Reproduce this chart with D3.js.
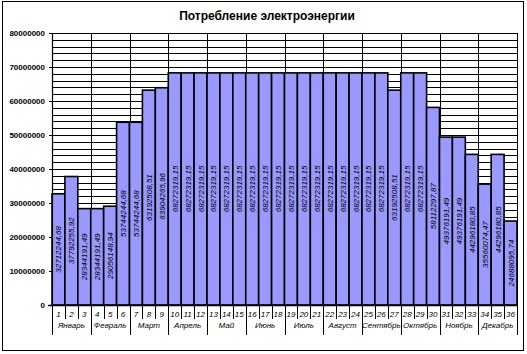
<!DOCTYPE html>
<html>
<head>
<meta charset="utf-8">
<script src="https://cdn.jsdelivr.net/npm/d3@7"></script>
<style>
  body { margin: 0; background: #fff; }
  text { font-family: "Liberation Sans", Arial, sans-serif; fill: #000; }
</style>
</head>
<body>
<div id="chart"></div>
<script>
// bar numbers 1..36 and the month each group of three belongs to
const barNums = ["1","2","3","4","5","6","7","8","9","10","11","12","13","14","15","16","17","18",
                 "19","20","21","22","23","24","25","26","27","28","29","30","31","32","33","34","35","36"];
const months = ["Январь","Февраль","Март","Апрель","Май","Июнь","Июль","Август","Сентябрь","Октябрь","Ноябрь","Декабрь"];
const values = [32712244.68, 37792255.92, 28344191.49, 28344191.49, 29056148.94, 53744244.68,
                53744244.68, 63192508.51, 63904265.96, 68272319.15, 68272319.15, 68272319.15,
                68272319.15, 68272319.15, 68272319.15, 68272319.15, 68272319.15, 68272319.15,
                68272319.15, 68272319.15, 68272319.15, 68272319.15, 68272319.15, 68272319.15,
                68272319.15, 68272319.15, 63192508.51, 68272319.15, 68272319.15, 58112297.87,
                49376191.49, 49376191.49, 44296180.85, 35560074.47, 44296180.85, 24688095.74];
const yTicks = [0, 10000000, 20000000, 30000000, 40000000, 50000000, 60000000, 70000000, 80000000];
const yMinor = [0, 2000000, 4000000, 6000000, 8000000, 10000000, 12000000, 14000000, 16000000, 18000000,
                20000000, 22000000, 24000000, 26000000, 28000000, 30000000, 32000000, 34000000, 36000000,
                38000000, 40000000, 42000000, 44000000, 46000000, 48000000, 50000000, 52000000, 54000000,
                56000000, 58000000, 60000000, 62000000, 64000000, 66000000, 68000000, 70000000, 72000000,
                74000000, 76000000, 78000000, 80000000];

const W = 527, H = 354;
const plot = { left: 52, right: 517, top: 33, bottom: 305 };

const svg = d3.select("#chart").append("svg")
    .attr("width", W).attr("height", H);

// outer frame
svg.append("rect")
    .attr("x", 2.5).attr("y", 1.5).attr("width", 521).attr("height", 349)
    .attr("fill", "#fff").attr("stroke", "#000").attr("stroke-width", 1);

svg.append("text")
    .attr("x", 267).attr("y", 20)
    .attr("text-anchor", "middle")
    .style("font-size", "12px").style("font-weight", "bold")
    .text("Потребление электроэнергии");

const x = d3.scaleBand().domain(barNums).range([plot.left, plot.right]).padding(0);
const y = d3.scaleLinear().domain([0, 80000000]).range([plot.bottom, plot.top]);

// horizontal grid (every 2 mln)
svg.append("g").selectAll("line").data(yMinor).enter().append("line")
    .attr("x1", plot.left).attr("x2", plot.right)
    .attr("y1", d => Math.round(y(d)) + 0.5).attr("y2", d => Math.round(y(d)) + 0.5)
    .attr("stroke", "#000").attr("stroke-width", 1);

// vertical grid at month boundaries
const monthEdges = months.map((m, i) => x(barNums[i * 3])).concat([plot.right]);
svg.append("g").selectAll("line").data(monthEdges).enter().append("line")
    .attr("x1", d => Math.round(d) + 0.5).attr("x2", d => Math.round(d) + 0.5)
    .attr("y1", plot.top).attr("y2", plot.bottom)
    .attr("stroke", "#000").attr("stroke-width", 1);

// bars
svg.append("g").selectAll("rect").data(values).enter().append("rect")
    .attr("x", (d, i) => x(barNums[i]))
    .attr("y", d => y(d))
    .attr("width", x.bandwidth())
    .attr("height", d => plot.bottom - y(d))
    .attr("fill", "#9999ff")
    .attr("stroke", "#000")
    .attr("stroke-width", 1.6);

// value labels, rotated, centred in the bar
const fmt = v => v.toFixed(2).replace(".", ",");
svg.append("g").selectAll("text").data(values).enter().append("text")
    .attr("transform", (d, i) => {
        const cx = x(barNums[i]) + x.bandwidth() / 2;
        const cy = (y(d) + plot.bottom) / 2;
        return `translate(${cx + 3},${cy}) rotate(-90)`;
    })
    .attr("text-anchor", "middle")
    .style("font-size", "8px").style("font-style", "italic")
    .text(fmt);

// y axis
const yAxis = svg.append("g")
    .attr("transform", `translate(${plot.left},0)`)
    .call(d3.axisLeft(y).tickValues(yTicks).tickSize(3).tickPadding(4).tickFormat(d => String(d)));
yAxis.select(".domain").attr("stroke", "#000").attr("stroke-width", 1.2);
yAxis.selectAll("text").style("font-size", "8px").style("font-weight", "bold")
    .style("font-family", "'Liberation Sans', Arial, sans-serif").attr("fill", "#000");

// x axis line
svg.append("line")
    .attr("x1", plot.left - 4).attr("x2", plot.right)
    .attr("y1", plot.bottom + 0.5).attr("y2", plot.bottom + 0.5)
    .attr("stroke", "#000").attr("stroke-width", 1.4);

// category row: bar numbers with separators
const catG = svg.append("g");
catG.selectAll("line").data(barNums).enter().append("line")
    .attr("x1", d => Math.round(x(d)) + 0.5).attr("x2", d => Math.round(x(d)) + 0.5)
    .attr("y1", plot.bottom).attr("y2", plot.bottom + 14)
    .attr("stroke", "#000");
catG.selectAll("text").data(barNums).enter().append("text")
    .attr("x", d => x(d) + x.bandwidth() / 2)
    .attr("y", plot.bottom + 12)
    .attr("text-anchor", "middle")
    .style("font-size", "8px").style("font-style", "italic")
    .text(d => d);

// month row
const monG = svg.append("g");
monG.selectAll("line").data(monthEdges).enter().append("line")
    .attr("x1", d => Math.round(d) + 0.5).attr("x2", d => Math.round(d) + 0.5)
    .attr("y1", plot.bottom).attr("y2", plot.bottom + 30)
    .attr("stroke", "#000");
monG.selectAll("text").data(months).enter().append("text")
    .attr("x", (d, i) => (monthEdges[i] + monthEdges[i + 1]) / 2)
    .attr("y", plot.bottom + 23)
    .attr("text-anchor", "middle")
    .style("font-size", "8px").style("font-style", "italic")
    .text(d => d);
</script>
</body>
</html>
